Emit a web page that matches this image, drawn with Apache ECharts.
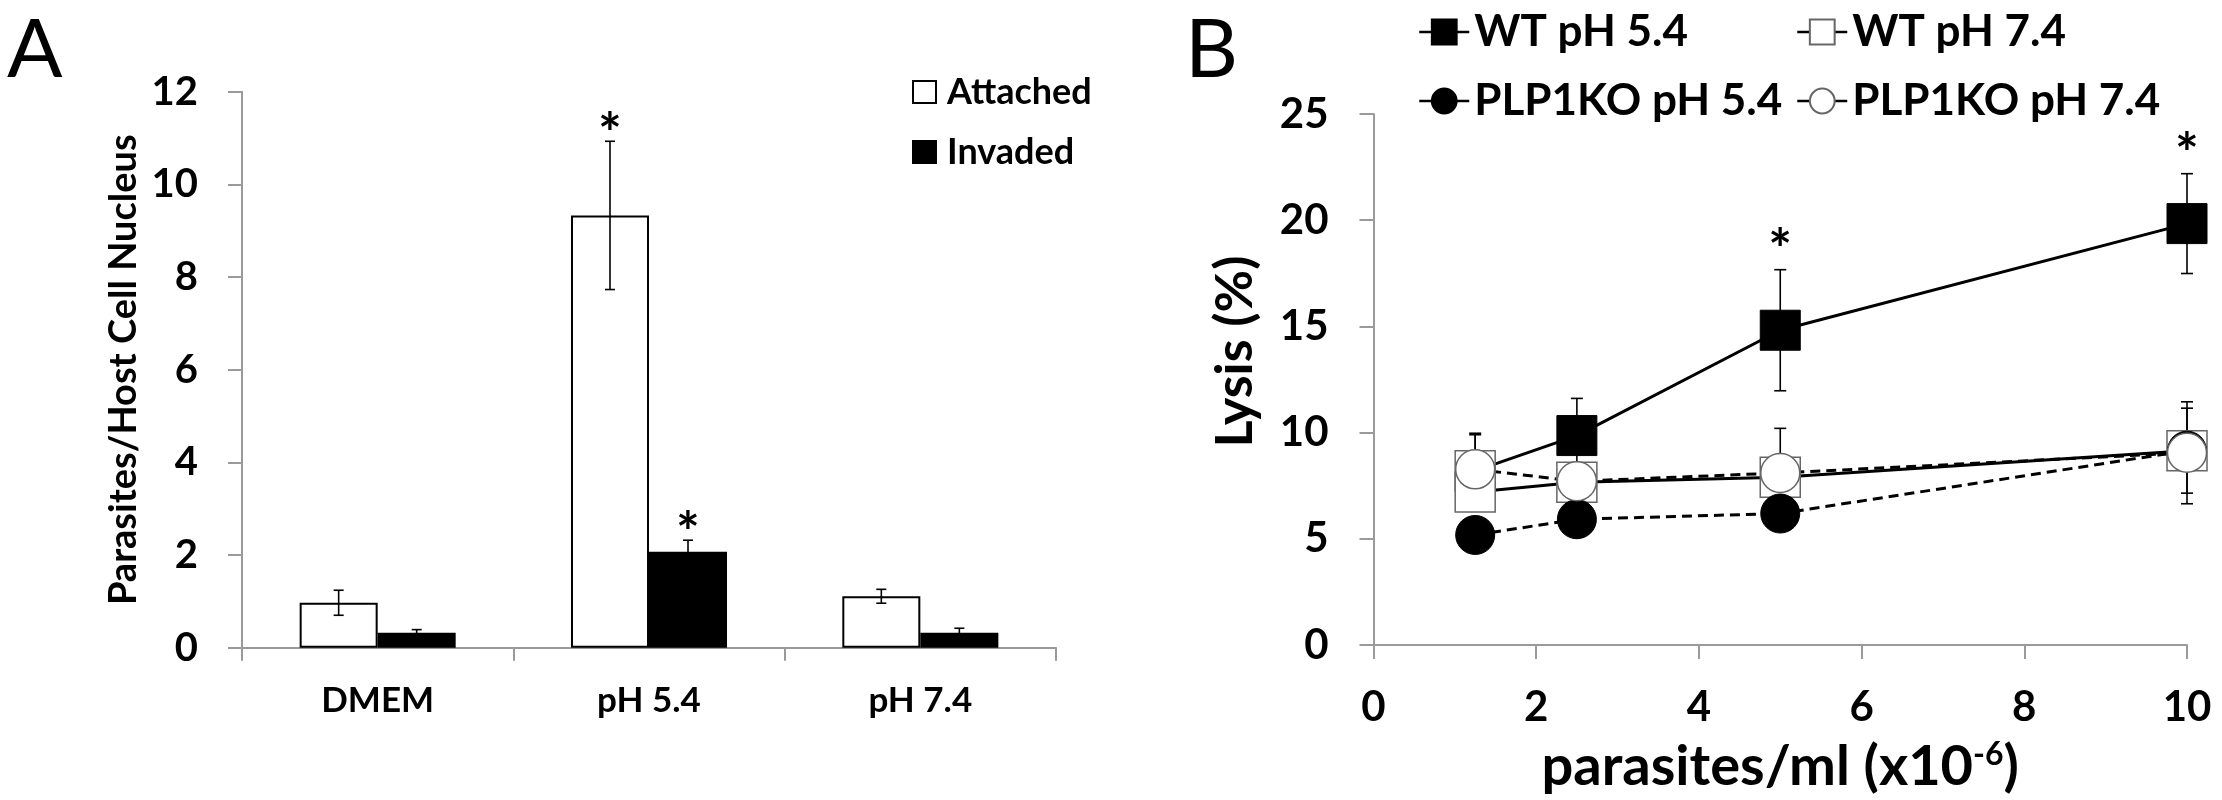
<!DOCTYPE html>
<html><head><meta charset="utf-8">
<script src="https://cdn.jsdelivr.net/npm/echarts@6/dist/echarts.min.js"></script>
<style>html,body{margin:0;padding:0;background:#fff}#c{width:2222px;height:800px}</style>
</head><body><div id="c"></div>
<script>
// ---- Panel A data ----
const categoriesA = ['DMEM', 'pH 5.4', 'pH 7.4'];
const attached = [0.97, 9.33, 1.11];
const attachedErr = [0.27, 1.6, 0.15];
const attachedSig = [0, 1, 0];
const invaded = [0.32, 2.07, 0.32];
const invadedErr = [0.07, 0.25, 0.1];
const invadedSig = [0, 1, 0];
const yTicksA = [0, 2, 4, 6, 8, 10, 12];

// ---- Panel B data ----
const densities = [1.25, 2.5, 5, 10];
const wt54 = [8.2, 9.86, 14.82, 19.84];
const wt54Err = [1.7, 1.75, 2.85, 2.35];
const wt54Sig = [0, 0, 1, 1];
const wt74 = [7.2, 7.66, 7.9, 9.15];
const wt74Err = [0.5, 0.5, 0.5, 2.0];
const ko54 = [5.18, 5.92, 6.19, 9.15];
const ko54Err = [0.4, 0.4, 0.4, 0.5];
const ko74 = [8.27, 7.71, 8.1, 9.05];
const ko74Err = [1.7, 0.8, 2.1, 2.4];
const noSig = [0, 0, 0, 0];
const xTicksB = [0, 2, 4, 6, 8, 10];
const yTicksB = [0, 5, 10, 15, 20, 25];

const FONT = 'Lato';
const AXIS_GRAY = '#9a9a9a';
const BAR_FRAC = 0.2875;

function errLine(x1, y1, x2, y2) {
  return {type: 'line', shape: {x1, y1, x2, y2}, style: {stroke: '#000', lineWidth: 1.6}};
}
function star(x, y) {
  return {type: 'text', style: {text: '*', x, y, textAlign: 'center', align: 'center',
    textVerticalAlign: 'middle', verticalAlign: 'middle', fontSize: 56, fontWeight: 'bold',
    fontFamily: FONT, fill: '#000'}};
}

function errBarsA(values, errs, sigs, side) {
  return {
    type: 'custom', xAxisIndex: 0, yAxisIndex: 0, z: 5, silent: true,
    data: values.map((v, i) => [i, v, errs[i], sigs[i]]),
    renderItem(params, api) {
      const i = api.value(0), v = api.value(1), e = api.value(2), s = api.value(3);
      const bw = api.size([1, 0])[0] * BAR_FRAC;
      const c = api.coord([i, v]);
      const x = c[0] + side * bw / 2;
      const top = api.coord([i, v + e])[1], bot = api.coord([i, v - e])[1];
      const cap = 5;
      const ch = [errLine(x, top, x, bot), errLine(x - cap, top, x + cap, top), errLine(x - cap, bot, x + cap, bot)];
      if (s) ch.push(star(x, top - 6));
      return {type: 'group', children: ch};
    }
  };
}

function errBarsB(values, errs, sigs) {
  return {
    type: 'custom', xAxisIndex: 1, yAxisIndex: 1, z: 1, silent: true,
    data: values.map((v, i) => [densities[i], v, errs[i], sigs[i]]),
    renderItem(params, api) {
      const d = api.value(0), v = api.value(1), e = api.value(2), s = api.value(3);
      const x = api.coord([d, v])[0];
      const top = api.coord([d, v + e])[1], bot = api.coord([d, v - e])[1];
      const cap = 6;
      const ch = [errLine(x, top, x, bot), errLine(x - cap, top, x + cap, top), errLine(x - cap, bot, x + cap, bot)];
      if (s) ch.push(star(x, top - 19));
      return {type: 'group', children: ch};
    }
  };
}

const openStyle = {color: '#fff', borderColor: '#666', borderWidth: 1.5};
const filledStyle = {color: '#000', borderColor: '#000', borderWidth: 1};

function lineSeries(name, vals, symbol, filled, dashed, firstOpen) {
  return {
    name, type: 'line', xAxisIndex: 1, yAxisIndex: 1, z: 3,
    data: densities.map((d, i) => (firstOpen && i === 0)
      ? {value: [d, vals[i]], itemStyle: openStyle}
      : [d, vals[i]]),
    symbol, symbolSize: symbol === 'rect' ? 40 : 39, showAllSymbol: true,
    lineStyle: {color: '#000', width: 3, type: dashed ? [10, 6] : 'solid'},
    itemStyle: filled ? filledStyle : openStyle,
    emphasis: {disabled: true}
  };
}

const labelFont = {fontFamily: FONT, fontWeight: 'bold', color: '#000'};

function legendItem(name, left, top, opts) {
  return Object.assign({
    data: [name], left, top, orient: 'horizontal', padding: 0, selectedMode: false,
    textStyle: Object.assign({}, labelFont)
  }, opts);
}

const legendA = {itemWidth: 23, itemHeight: 22, icon: 'rect'};
const legendB = {itemWidth: 50, itemHeight: 31, lineStyle: {type: 'solid', width: 2.5}};
const legTextA = Object.assign({fontSize: 36, lineHeight: 40, padding: [0, 0, 0, 6]}, labelFont);
const legTextB = Object.assign({fontSize: 44, lineHeight: 48}, labelFont);

const option = {
  animation: false,
  backgroundColor: '#fff',
  grid: [
    {left: 242, top: 91.7, width: 814, height: 556, containLabel: false},
    {left: 1373.5, top: 114, width: 813.5, height: 533, containLabel: false}
  ],
  xAxis: [
    {
      gridIndex: 0, type: 'category', data: categoriesA, boundaryGap: true,
      axisLine: {lineStyle: {color: AXIS_GRAY, width: 2}},
      axisTick: {show: true, length: 13, alignWithLabel: false, lineStyle: {color: AXIS_GRAY, width: 2}},
      axisLabel: Object.assign({fontSize: 35, margin: 36}, labelFont),
      splitLine: {show: false}
    },
    {
      gridIndex: 1, type: 'value', min: xTicksB[0], max: xTicksB[xTicksB.length - 1], interval: xTicksB[1] - xTicksB[0],
      axisLine: {onZero: false, lineStyle: {color: AXIS_GRAY, width: 2}},
      axisTick: {show: true, length: 14, lineStyle: {color: AXIS_GRAY, width: 2}},
      axisLabel: Object.assign({fontSize: 42, margin: 41}, labelFont),
      splitLine: {show: false},
      name: 'parasites/ml (x10{s|-6})', nameLocation: 'middle', nameGap: 94, nameMoveOverlap: false,
      nameTextStyle: Object.assign({fontSize: 56, rich: {s: {fontSize: 32, fontWeight: 'bold', fontFamily: FONT, color: '#000', verticalAlign: 'top'}}}, labelFont)
    }
  ],
  yAxis: [
    {
      gridIndex: 0, type: 'value', min: yTicksA[0], max: yTicksA[yTicksA.length - 1], interval: yTicksA[1] - yTicksA[0],
      axisLine: {show: true, lineStyle: {color: AXIS_GRAY, width: 2}},
      axisTick: {show: true, length: 14, lineStyle: {color: AXIS_GRAY, width: 2}},
      axisLabel: Object.assign({fontSize: 40, margin: 44}, labelFont),
      splitLine: {show: false},
      name: 'Parasites/Host Cell Nucleus', nameLocation: 'middle', nameRotate: 90, nameGap: 99, nameMoveOverlap: false,
      nameTextStyle: Object.assign({fontSize: 38}, labelFont)
    },
    {
      gridIndex: 1, type: 'value', min: yTicksB[0], max: yTicksB[yTicksB.length - 1], interval: yTicksB[1] - yTicksB[0],
      axisLine: {show: true, lineStyle: {color: AXIS_GRAY, width: 2}},
      axisTick: {show: true, length: 14, lineStyle: {color: AXIS_GRAY, width: 2}},
      axisLabel: Object.assign({fontSize: 42, margin: 45}, labelFont),
      splitLine: {show: false},
      name: 'Lysis (%)', nameLocation: 'middle', nameRotate: 90, nameGap: 112, nameMoveOverlap: false,
      nameTextStyle: Object.assign({fontSize: 52, padding: [0, 0, 0, 56]}, labelFont)
    }
  ],
  legend: [
    legendItem('Attached', 912, 72, Object.assign({textStyle: legTextA}, legendA)),
    legendItem('Invaded', 912, 132, Object.assign({textStyle: legTextA}, legendA)),
    legendItem('WT pH 5.4', 1418, 8, Object.assign({textStyle: legTextB}, legendB)),
    legendItem('WT pH 7.4', 1796, 8, Object.assign({textStyle: legTextB}, legendB)),
    legendItem('PLP1KO pH 5.4', 1418, 77, Object.assign({textStyle: legTextB}, legendB)),
    legendItem('PLP1KO pH 7.4', 1796, 77, Object.assign({textStyle: legTextB}, legendB))
  ],
  graphic: [
    {type: 'text', x: 7, y: 51, style: {text: 'A', fontSize: 82, fontFamily: FONT, fill: '#000', verticalAlign: 'middle', textVerticalAlign: 'middle'}},
    {type: 'text', x: 1185, y: 51, style: {text: 'B', fontSize: 82, fontFamily: FONT, fill: '#000', verticalAlign: 'middle', textVerticalAlign: 'middle'}}
  ],
  series: [
    {
      name: 'Attached', type: 'bar', xAxisIndex: 0, yAxisIndex: 0, data: attached,
      barWidth: (BAR_FRAC * 100) + '%', barGap: '0%',
      itemStyle: {color: '#fff', borderColor: '#000', borderWidth: 2},
      emphasis: {disabled: true}
    },
    {
      name: 'Invaded', type: 'bar', xAxisIndex: 0, yAxisIndex: 0, data: invaded,
      barWidth: (BAR_FRAC * 100) + '%', barGap: '0%',
      itemStyle: {color: '#000', borderColor: '#000', borderWidth: 2},
      emphasis: {disabled: true}
    },
    errBarsA(attached, attachedErr, attachedSig, -1),
    errBarsA(invaded, invadedErr, invadedSig, 1),
    errBarsB(wt54, wt54Err, wt54Sig),
    errBarsB(wt74, wt74Err, noSig),
    errBarsB(ko54, ko54Err, noSig),
    errBarsB(ko74, ko74Err, noSig),
    lineSeries('WT pH 5.4', wt54, 'rect', true, false, true),
    lineSeries('WT pH 7.4', wt74, 'rect', false, false, false),
    lineSeries('PLP1KO pH 5.4', ko54, 'circle', true, true, false),
    lineSeries('PLP1KO pH 7.4', ko74, 'circle', false, true, false)
  ]
};

const chart = echarts.init(document.getElementById('c'), null, {renderer: 'canvas'});
chart.setOption(option);
</script>
</body></html>
